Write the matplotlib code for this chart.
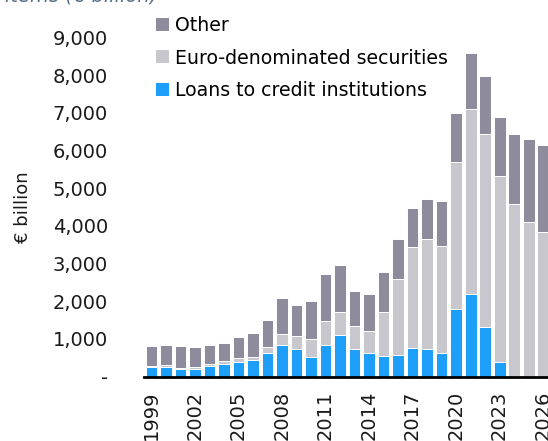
import matplotlib
matplotlib.use("Agg")
import matplotlib.pyplot as plt
from matplotlib.patches import Patch
from matplotlib.ticker import FuncFormatter

# Eurosystem balance sheet items, € billion (2024-2026 projected)
years = list(range(1999, 2027))
loans = [245, 260, 190, 205, 285, 340, 395, 445, 630, 835, 740, 525, 845, 1110,
         740, 615, 545, 570, 750, 720, 615, 1790, 2190, 1315, 395, 0, 0, 0]
securities = [35, 35, 35, 45, 55, 70, 95, 75, 155, 295, 335, 480, 635, 600,
              600, 595, 1165, 2010, 2680, 2920, 2860, 3905, 4910, 5125, 4935,
              4580, 4110, 3835]
other = [520, 540, 585, 540, 490, 480, 550, 630, 725, 945, 815, 990, 1250, 1250,
         925, 990, 1065, 1080, 1035, 1065, 1190, 1300, 1480, 1530, 1570, 1850,
         2195, 2310]
series_labels = ["Loans to credit institutions", "Euro-denominated securities", "Other"]
yticks = [0, 1000, 2000, 3000, 4000, 5000, 6000, 7000, 8000, 9000]

c_loans = "#1d9ef9"
c_sec = "#c8c7ce"
c_other = "#8d8b9c"

plt.rcParams["font.family"] = ["DejaVu Sans"]

fig = plt.figure(figsize=(5.48, 4.41), dpi=100)
ax = fig.add_axes([144 / 548, (441 - 376.5) / 441, 406.6 / 548, 339 / 441])

x = list(range(len(years)))
w = 0.82
bottom2 = [a + b for a, b in zip(loans, securities)]
ax.bar(x, loans, width=w, color=c_loans, edgecolor="white", linewidth=0.7)
ax.bar(x, securities, width=w, bottom=loans, color=c_sec, edgecolor="white", linewidth=0.7)
ax.bar(x, other, width=w, bottom=bottom2, color=c_other, edgecolor="white", linewidth=0.7)

ax.set_xlim(-0.52, len(years) - 0.48)
ax.set_ylim(0, 9000)
ax.set_yticks(yticks)
ax.yaxis.set_major_formatter(FuncFormatter(lambda v, p: "-" if v == 0 else f"{v:,.0f}"))
ax.tick_params(axis="y", length=0, pad=26, labelsize=14, colors="#1a1a1a")

ax.set_xticks(x[::3])
ax.set_xticklabels([str(y) for y in years[::3]], rotation=90, va="top")
ax.tick_params(axis="x", length=0, pad=10, labelsize=14, colors="#1a1a1a")

for s in ["top", "right", "left"]:
    ax.spines[s].set_visible(False)
ax.spines["bottom"].set_linewidth(2)
ax.spines["bottom"].set_color("black")

fig.text(23 / 548, 1 - 207 / 441, "€ billion", rotation=90, ha="center", va="center",
         fontsize=13, color="#1a1a1a")

fig.text(5 / 548, 1 - 1 / 441, "items (€ billion)", style="italic", color="#5b6f8d",
         fontsize=14, va="baseline", ha="left")

handles = [Patch(facecolor=c_other), Patch(facecolor=c_sec), Patch(facecolor=c_loans)]
labels = [series_labels[2], series_labels[1], series_labels[0]]
fig.legend(handles, labels, loc="upper left", bbox_to_anchor=(156 / 548, 1 - 16 / 441),
           frameon=False, fontsize=13.6, handlelength=0.68, handleheight=0.68,
           handletextpad=0.3, labelspacing=0.72, borderpad=0, borderaxespad=0)

fig.savefig("out.png", dpi=100)
